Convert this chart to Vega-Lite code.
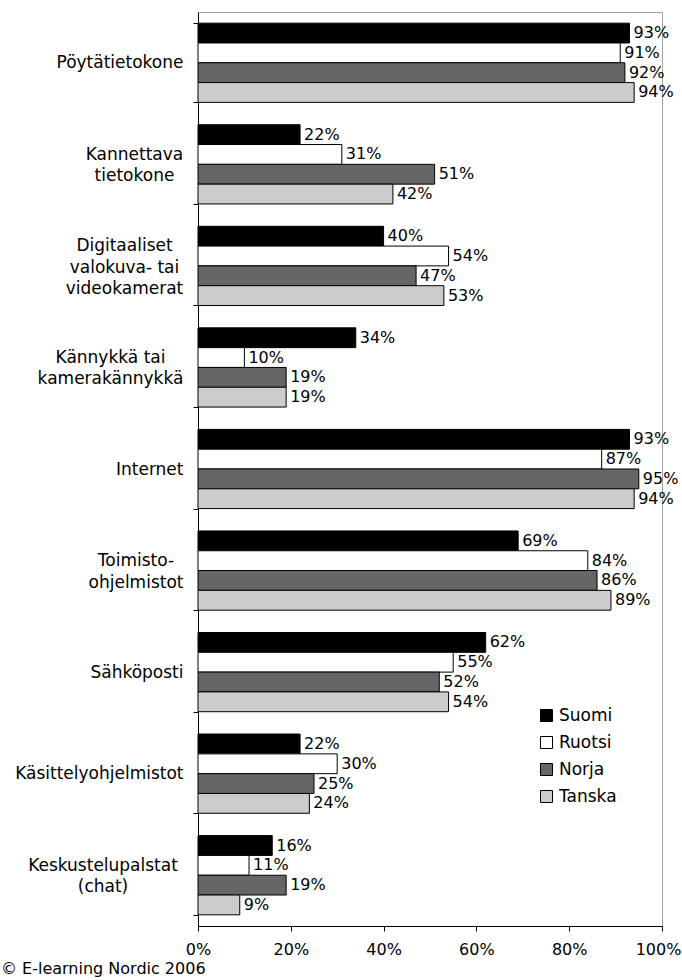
{
  "$schema": "https://vega.github.io/schema/vega-lite/v6.json",
  "width": 464,
  "height": 914,
  "autosize": {"type": "none"},
  "padding": {"left": 198, "top": 12, "right": 20, "bottom": 54},
  "background": "white",
  "config": {
    "font": "DejaVu Sans",
    "view": {"stroke": "#a0a0a0", "strokeWidth": 1},
    "axis": {"grid": false, "domainColor": "black", "tickColor": "black", "labelColor": "black", "labelFont": "DejaVu Sans", "labelFontSize": 16, "tickSize": 5}
  },
  "title": {
    "text": "© E-learning Nordic 2006",
    "orient": "bottom",
    "anchor": "start",
    "frame": "group",
    "dx": -197,
    "fontSize": 16,
    "fontWeight": "normal",
    "font": "DejaVu Sans",
    "color": "black",
    "offset": 4
  },
  "data": {
    "values": [
      {"kategoria": "Pöytätietokone", "maa": "Suomi", "osuus": 0.93},
      {"kategoria": "Pöytätietokone", "maa": "Ruotsi", "osuus": 0.91},
      {"kategoria": "Pöytätietokone", "maa": "Norja", "osuus": 0.92},
      {"kategoria": "Pöytätietokone", "maa": "Tanska", "osuus": 0.94},
      {"kategoria": "Kannettava tietokone", "maa": "Suomi", "osuus": 0.22},
      {"kategoria": "Kannettava tietokone", "maa": "Ruotsi", "osuus": 0.31},
      {"kategoria": "Kannettava tietokone", "maa": "Norja", "osuus": 0.51},
      {"kategoria": "Kannettava tietokone", "maa": "Tanska", "osuus": 0.42},
      {"kategoria": "Digitaaliset valokuva- tai videokamerat", "maa": "Suomi", "osuus": 0.40},
      {"kategoria": "Digitaaliset valokuva- tai videokamerat", "maa": "Ruotsi", "osuus": 0.54},
      {"kategoria": "Digitaaliset valokuva- tai videokamerat", "maa": "Norja", "osuus": 0.47},
      {"kategoria": "Digitaaliset valokuva- tai videokamerat", "maa": "Tanska", "osuus": 0.53},
      {"kategoria": "Kännykkä tai kamerakännykkä", "maa": "Suomi", "osuus": 0.34},
      {"kategoria": "Kännykkä tai kamerakännykkä", "maa": "Ruotsi", "osuus": 0.10},
      {"kategoria": "Kännykkä tai kamerakännykkä", "maa": "Norja", "osuus": 0.19},
      {"kategoria": "Kännykkä tai kamerakännykkä", "maa": "Tanska", "osuus": 0.19},
      {"kategoria": "Internet", "maa": "Suomi", "osuus": 0.93},
      {"kategoria": "Internet", "maa": "Ruotsi", "osuus": 0.87},
      {"kategoria": "Internet", "maa": "Norja", "osuus": 0.95},
      {"kategoria": "Internet", "maa": "Tanska", "osuus": 0.94},
      {"kategoria": "Toimisto-ohjelmistot", "maa": "Suomi", "osuus": 0.69},
      {"kategoria": "Toimisto-ohjelmistot", "maa": "Ruotsi", "osuus": 0.84},
      {"kategoria": "Toimisto-ohjelmistot", "maa": "Norja", "osuus": 0.86},
      {"kategoria": "Toimisto-ohjelmistot", "maa": "Tanska", "osuus": 0.89},
      {"kategoria": "Sähköposti", "maa": "Suomi", "osuus": 0.62},
      {"kategoria": "Sähköposti", "maa": "Ruotsi", "osuus": 0.55},
      {"kategoria": "Sähköposti", "maa": "Norja", "osuus": 0.52},
      {"kategoria": "Sähköposti", "maa": "Tanska", "osuus": 0.54},
      {"kategoria": "Käsittelyohjelmistot", "maa": "Suomi", "osuus": 0.22},
      {"kategoria": "Käsittelyohjelmistot", "maa": "Ruotsi", "osuus": 0.30},
      {"kategoria": "Käsittelyohjelmistot", "maa": "Norja", "osuus": 0.25},
      {"kategoria": "Käsittelyohjelmistot", "maa": "Tanska", "osuus": 0.24},
      {"kategoria": "Keskustelupalstat (chat)", "maa": "Suomi", "osuus": 0.16},
      {"kategoria": "Keskustelupalstat (chat)", "maa": "Ruotsi", "osuus": 0.11},
      {"kategoria": "Keskustelupalstat (chat)", "maa": "Norja", "osuus": 0.19},
      {"kategoria": "Keskustelupalstat (chat)", "maa": "Tanska", "osuus": 0.09}
    ]
  },
  "encoding": {
    "y": {
      "field": "kategoria",
      "type": "nominal",
      "sort": null,
      "scale": {"paddingInner": 0.22, "paddingOuter": 0.11},
      "axis": {
        "title": null,
        "tickBand": "extent",
        "labelFontSize": 17,
        "labelAlign": {"condition": {"test": "indexof(['Kannettava tietokone', 'Digitaaliset valokuva- tai videokamerat', 'Kännykkä tai kamerakännykkä', 'Toimisto-ohjelmistot', 'Keskustelupalstat (chat)'], datum.value) >= 0", "value": "center"}, "value": "right"},
        "labelBaseline": "middle",
        "labelPadding": {"condition": [
          {"test": "datum.value == 'Kannettava tietokone'", "value": 59},
          {"test": "datum.value == 'Digitaaliset valokuva- tai videokamerat'", "value": 69},
          {"test": "datum.value == 'Kännykkä tai kamerakännykkä'", "value": 83},
          {"test": "datum.value == 'Toimisto-ohjelmistot'", "value": 57.5},
          {"test": "datum.value == 'Keskustelupalstat (chat)'", "value": 90.5}
        ], "value": 10},
        "labelOffset": {"condition": [
          {"test": "datum.value == 'Digitaaliset valokuva- tai videokamerat'", "value": -20},
          {"test": "indexof(['Kannettava tietokone', 'Kännykkä tai kamerakännykkä', 'Toimisto-ohjelmistot', 'Keskustelupalstat (chat)'], datum.value) >= 0", "value": -10}
        ], "value": 0},
        "labelLineHeight": 21.5,
        "labelLimit": 0,
        "labelExpr": "datum.value == 'Kannettava tietokone' ? ['Kannettava', 'tietokone'] : datum.value == 'Digitaaliset valokuva- tai videokamerat' ? ['Digitaaliset', 'valokuva- tai', 'videokamerat'] : datum.value == 'Kännykkä tai kamerakännykkä' ? ['Kännykkä tai', 'kamerakännykkä'] : datum.value == 'Toimisto-ohjelmistot' ? ['Toimisto-', 'ohjelmistot'] : datum.value == 'Keskustelupalstat (chat)' ? ['Keskustelupalstat', '(chat)'] : datum.value"
      }
    },
    "yOffset": {
      "field": "maa",
      "type": "nominal",
      "sort": ["Suomi", "Ruotsi", "Norja", "Tanska"],
      "scale": {"paddingInner": 0, "paddingOuter": 0}
    },
    "x": {
      "field": "osuus",
      "type": "quantitative",
      "scale": {"domain": [0, 1], "nice": false},
      "axis": {
        "title": null,
        "values": [0, 0.2, 0.4, 0.6, 0.8, 1],
        "format": ".0%",
        "labelPadding": 10,
        "labelFlush": false,
        "labelOffset": {"condition": {"test": "datum.value == 1", "value": -4}, "value": 0}
      }
    }
  },
  "layer": [
    {
      "mark": {"type": "bar", "stroke": "black", "strokeWidth": 1},
      "encoding": {
        "fill": {
          "field": "maa",
          "type": "nominal",
          "sort": ["Suomi", "Ruotsi", "Norja", "Tanska"],
          "scale": {"domain": ["Suomi", "Ruotsi", "Norja", "Tanska"], "range": ["#000000", "#ffffff", "#666666", "#cccccc"]},
          "legend": {
            "title": null,
            "orient": "none",
            "legendX": 340,
            "legendY": 695,
            "symbolType": "square",
            "symbolSize": 144,
            "symbolStrokeColor": "black",
            "symbolStrokeWidth": 1,
            "labelFontSize": 17,
            "labelFont": "DejaVu Sans",
            "labelColor": "black",
            "rowPadding": 9,
            "labelOffset": 4
          }
        }
      }
    },
    {
      "mark": {"type": "text", "align": "left", "baseline": "middle", "dx": 4, "fontSize": 16, "color": "black"},
      "encoding": {
        "text": {"field": "osuus", "type": "quantitative", "format": ".0%"}
      }
    }
  ]
}
